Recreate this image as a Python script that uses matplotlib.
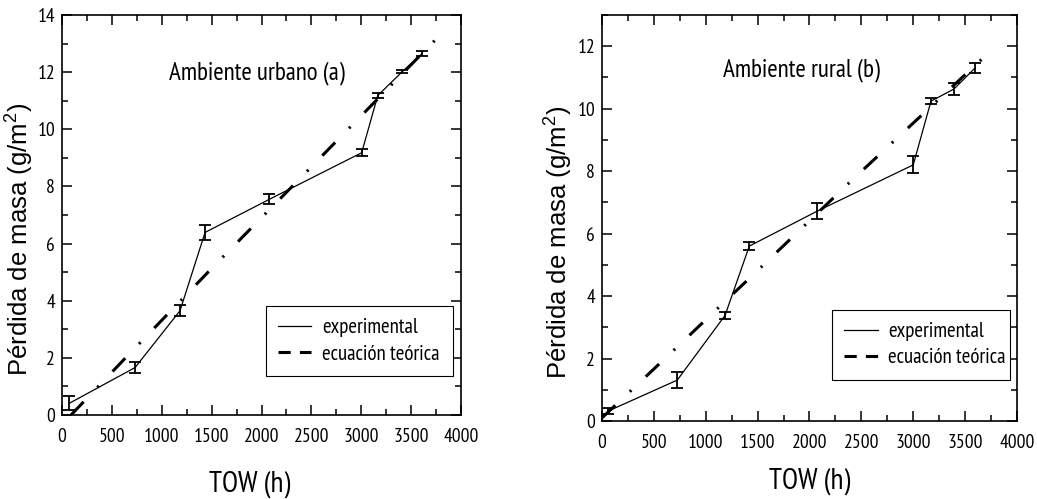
import matplotlib
matplotlib.use('Agg')
import matplotlib.pyplot as plt
from matplotlib.lines import Line2D
from matplotlib.ticker import MultipleLocator

# Datos
tow_urb = [73, 732, 1183, 1434, 2079, 3004, 3165, 3412, 3613]
masa_urb = [0.41, 1.66, 3.65, 6.39, 7.55, 9.18, 11.18, 12.02, 12.66]
err_urb = [0.25, 0.18, 0.2, 0.25, 0.18, 0.13, 0.1, 0.04, 0.08]
teo_tow_urb = [90, 615, 1500, 2403, 3740]
teo_masa_urb = [0.0, 1.92, 5.13, 8.34, 13.12]

tow_rur = [61, 726, 1186, 1420, 2075, 3000, 3171, 3393, 3595]
masa_rur = [0.32, 1.31, 3.38, 5.6, 6.72, 8.2, 10.24, 10.63, 11.3]
err_rur = [0.1, 0.25, 0.12, 0.12, 0.25, 0.27, 0.1, 0.2, 0.15]
teo_tow_rur = [0, 607, 1491, 2390, 3740]
teo_masa_rur = [0.1, 2.0, 4.79, 7.65, 11.83]

narrow = ['PT Sans Narrow', 'Roboto Condensed', 'DejaVu Sans']
regular = ['Liberation Sans', 'DejaVu Sans']
plt.rcParams['font.family'] = narrow
plt.rcParams['mathtext.default'] = 'regular'

fig = plt.figure(figsize=(10.37, 4.99), dpi=100)
ax1 = fig.add_axes([0.0598, 0.1683, 0.3848, 0.8017])
ax2 = fig.add_axes([0.5805, 0.1563, 0.4002, 0.8137])

dash_dot = (0, (6, 6.5, 0.7, 6.5))


def panel(ax, x, y, e, tx, ty, ymax, titulo, tpos, legpos, xlab):
    ax.errorbar(x, y, yerr=e, color='black', lw=0.9, elinewidth=1.3,
                capsize=4.5, capthick=1.3)
    ax.plot(tx, ty, color='black', lw=2.2, linestyle=dash_dot)
    ax.set_xlim(0, 4000)
    ax.set_ylim(0, ymax)
    ax.xaxis.set_major_locator(MultipleLocator(500))
    ax.xaxis.set_minor_locator(MultipleLocator(250))
    ax.yaxis.set_major_locator(MultipleLocator(2))
    ax.yaxis.set_minor_locator(MultipleLocator(1))
    ax.tick_params(which='both', direction='in', top=True, right=True,
                   width=1.1, labelsize=14)
    ax.tick_params(which='major', length=7)
    ax.tick_params(which='minor', length=4)
    ax.tick_params(axis='x', pad=9)
    ax.tick_params(axis='y', pad=5)
    for s in ax.spines.values():
        s.set_linewidth(1.2)
    ax.text(tpos[0], tpos[1], titulo, transform=ax.transAxes,
            ha='center', va='center', fontsize=18)
    ax.set_xlabel('TOW (h)', fontsize=21)
    ax.xaxis.set_label_coords(*xlab)
    ax.set_ylabel('Pérdida de masa (g/m$^2$)', fontsize=18.5, family=regular)
    ax.yaxis.set_label_coords(-0.066, 0.44)
    handles = [Line2D([], [], color='black', lw=0.9),
               Line2D([], [], color='black', lw=2.2, linestyle=(0, (4, 3)))]
    leg = ax.legend(handles, ['experimental', 'ecuación teórica'],
                    loc='lower left', bbox_to_anchor=legpos, mode='expand',
                    borderaxespad=0, fontsize=15, fancybox=False,
                    edgecolor='black', framealpha=1, handlelength=1.6,
                    labelspacing=0.35, borderpad=0.6, handletextpad=0.5)
    leg.get_frame().set_linewidth(0.8)


panel(ax1, tow_urb, masa_urb, err_urb, teo_tow_urb, teo_masa_urb, 14,
      'Ambiente urbano (a)', (0.489, 0.855), (0.51, 0.0975, 0.47, 0.18),
      (0.47, -0.14))
panel(ax2, tow_rur, masa_rur, err_rur, teo_tow_rur, teo_masa_rur, 13,
      'Ambiente rural (b)', (0.48, 0.864), (0.554, 0.101, 0.429, 0.165),
      (0.50, -0.115))

fig.savefig('out.png', dpi=100)
